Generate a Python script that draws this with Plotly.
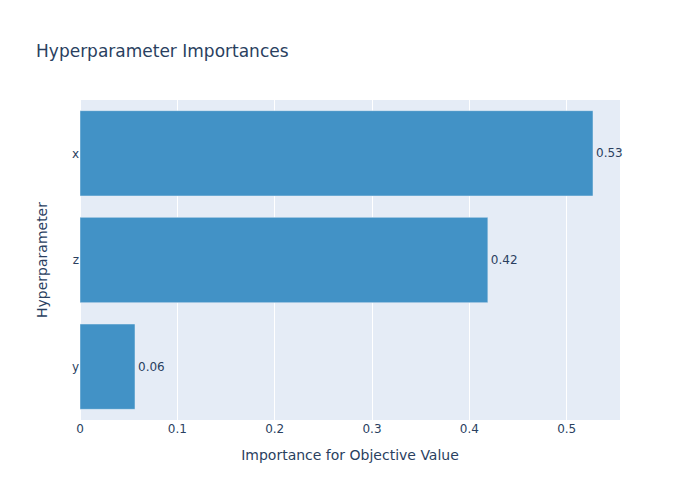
import plotly.graph_objects as go

# importance values (bottom to top)
params = ["y", "z", "x"]
importances = [0.0565, 0.419, 0.527]
labels = ["{:.2f}".format(v) for v in importances]

fig = go.Figure(
    data=[
        go.Bar(
            x=importances,
            y=params,
            orientation="h",
            text=labels,
            textposition="outside",
            cliponaxis=False,
            marker_color="rgb(66,146,198)",
            showlegend=False,
        )
    ]
)

# page has an 8px body margin, so margins are trimmed to keep the plot box in place
fig.update_layout(
    title=dict(text="Hyperparameter Importances", x=0.041, y=0.911, yanchor="middle"),
    font=dict(family="DejaVu Sans"),
    margin=dict(l=72, r=72, t=92, b=72),
    xaxis=dict(title="Importance for Objective Value"),
    yaxis=dict(title=dict(text="Hyperparameter", standoff=20)),
)

fig.write_html("out.html")
